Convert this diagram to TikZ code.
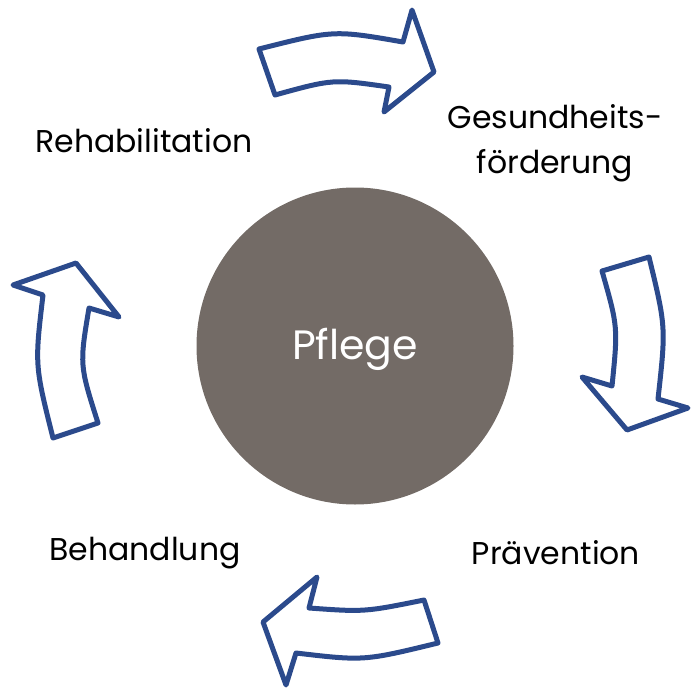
\documentclass[tikz,border=0pt]{standalone}
\usepackage{fontspec}
\setmainfont{Poppins}
\definecolor{arrowblue}{HTML}{2B4A8C}
\definecolor{pflegegray}{HTML}{736B66}
\begin{document}
\begin{tikzpicture}[x=1pt,y=-1pt,
  cyclearrow/.style={draw=arrowblue,line width=5pt,line join=round,fill=white},
  label/.style={font=\fontsize{31.5}{45}\selectfont,text=black,align=center,inner sep=0pt}]
\useasboundingbox (0,0) rectangle (693,693);
% centre
\node[circle,fill=pflegegray,minimum size=317pt,inner sep=0pt] (core) at (355,346) {};
\node[font=\fontsize{41}{45}\selectfont,text=white,inner sep=0pt] (pflege) at (355,349) {Pflege};
% arrows
\draw[cyclearrow] (259,49) .. controls (334,30) .. (403,42) -- (412,10) -- (434,72) -- (384,112) -- (389,87) .. controls (333,79) .. (275,95) -- cycle;
\draw[cyclearrow] (602,271) -- (649,257) .. controls (666,327) .. (658,399) -- (688,408) -- (627,430) -- (582,377) -- (612,386) .. controls (618,327) .. cycle;
\draw[cyclearrow] (424,600) -- (438,643) .. controls (364,661) .. (296,653) -- (286,685) -- (263,622) -- (317,577) -- (309,608) .. controls (364.5,612) .. cycle;
\draw[cyclearrow] (53,438) -- (98,423) .. controls (79.5,365) .. (89,308) -- (119,317) -- (76,263) -- (13,285) -- (43,295) .. controls (34.7,365) .. cycle;
% labels
\node[label] (reha) at (144,141) {Rehabilitation};
\node[label] (gesund) at (555,143) {Gesundheits-\\förderung};
\node[label] (praev) at (556,553) {Prävention};
\node[label] (behand) at (145,553) {Behandlung};
\end{tikzpicture}
\end{document}
